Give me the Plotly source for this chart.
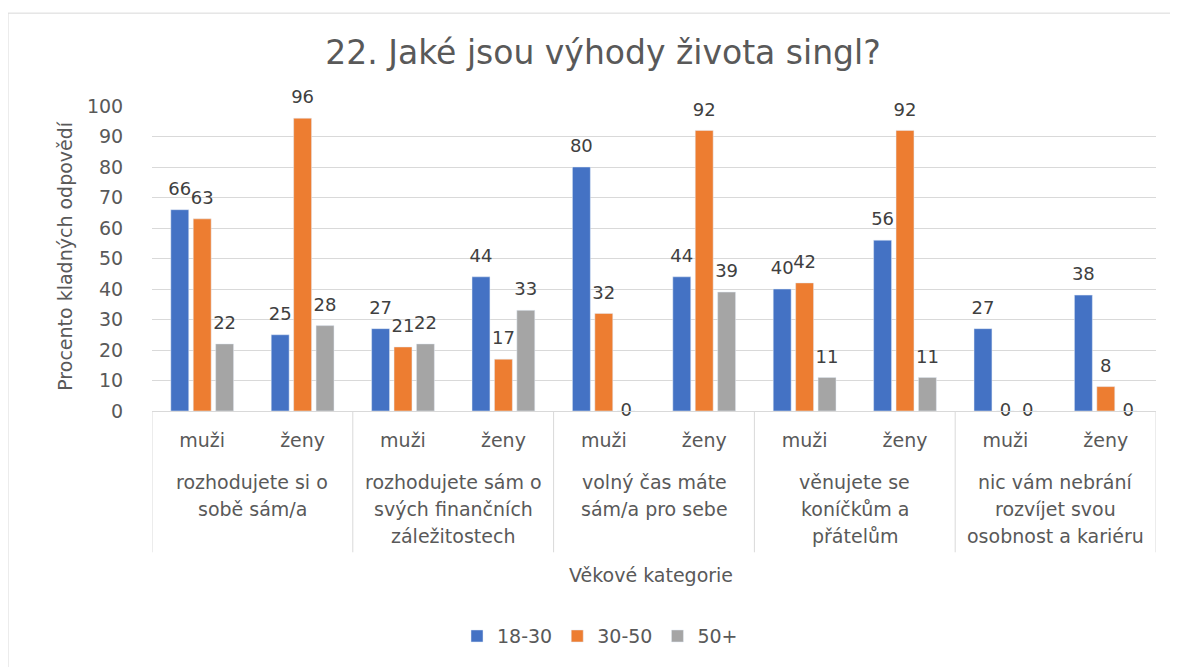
import plotly.graph_objects as go

# ---- data ----
questions = [
    "rozhodujete si o<br>sobě sám/a",
    "rozhodujete sám o<br>svých finančních<br>záležitostech",
    "volný čas máte<br>sám/a pro sebe",
    "věnujete se<br>koníčkům a<br>přátelům",
    "nic vám nebrání<br>rozvíjet svou<br>osobnost a kariéru",
]
genders = ["muži", "ženy"]
series_names = ["18-30", "30-50", "50+"]
s18_30 = [66, 25, 27, 44, 80, 44, 40, 56, 27, 38]
s30_50 = [63, 96, 21, 17, 32, 92, 42, 92, 0, 8]
s50p = [22, 28, 22, 33, 0, 39, 11, 11, 0, 0]
colors = ["#4472C4", "#ED7D31", "#A5A5A5"]

# ---- layout geometry (page pixels; page body has an 8px margin) ----
OFF = 8
W, H = 1178 - OFF, 667 - OFF
L, R, T, B = 152 - OFF, 1156 - OFF, 106 - OFF, 411.5 - OFF
PW, PH = R - L, B - T

def px(xp):
    return (xp - OFF - L) / PW

def py(yp):
    return (B - (yp - OFF)) / PH

FONT = "DejaVu Sans"
GRAY = "#595959"
FS = 19

cats = [g for _ in questions for g in genders]
xpos = list(range(len(cats)))

fig = go.Figure()
for k, (name, vals, col) in enumerate(zip(series_names, [s18_30, s30_50, s50p], colors)):
    fig.add_trace(go.Bar(
        x=xpos, y=vals, name=name, marker_color=col, offsetgroup=str(k),
        hoverinfo="y",
    ))
for k, (name, vals) in enumerate(zip(series_names, [s18_30, s30_50, s50p])):
    fig.add_trace(go.Scatter(
        x=xpos, y=vals, mode="markers+text", offsetgroup=str(k),
        marker=dict(size=15, color="rgba(0,0,0,0)"),
        text=[str(v) for v in vals],
        textposition=["middle center" if v == 0 else "top center" for v in vals],
        textfont=dict(family=FONT, size=18, color="#404040"),
        showlegend=False, hoverinfo="skip", cliponaxis=False,
    ))

shapes = []
for i in range(len(questions) + 1):
    shapes.append(dict(type="line", xref="x", yref="paper",
                       x0=-0.5 + 2 * i, x1=-0.5 + 2 * i, y0=0, y1=py(553),
                       line=dict(color="#d9d9d9", width=1)))
shapes.append(dict(type="rect", xref="paper", yref="paper",
                   x0=px(8), x1=px(1172), y0=py(700), y1=py(13),
                   line=dict(color="#d9d9d9", width=1), layer="below"))

annotations = []
line_y = [483, 510, 537]
for i, q in enumerate(questions):
    for j, line in enumerate(q.split("<br>")):
        annotations.append(dict(x=2 * i + 0.5, xref="x", y=py(line_y[j]), yref="paper",
                                yanchor="middle", xanchor="center", text=line,
                                showarrow=False,
                                font=dict(family=FONT, size=FS, color=GRAY)))
annotations.append(dict(x=px(651), y=py(576), xref="paper", yref="paper",
                        xanchor="center", yanchor="middle",
                        text="Věkové kategorie", showarrow=False,
                        font=dict(family=FONT, size=FS, color=GRAY)))
annotations.append(dict(x=px(65), y=py(256), xref="paper", yref="paper",
                        xanchor="center", yanchor="middle",
                        text="Procento kladných odpovědí", showarrow=False, textangle=-90,
                        font=dict(family=FONT, size=FS, color=GRAY)))

fig.update_layout(
    width=W, height=H,
    margin=dict(l=L, r=W - R, t=T, b=H - B),
    paper_bgcolor="white", plot_bgcolor="white",
    barmode="group", bargap=0.33, bargroupgap=0.2,
    scattermode="group", scattergap=0.33,
    title=dict(text="22. Jaké jsou výhody života singl?", x=px(603), xref="paper",
               xanchor="center", y=1 - (52 - OFF) / H, yanchor="middle",
               font=dict(family=FONT, size=33, color=GRAY)),
    font=dict(family=FONT, size=FS, color=GRAY),
    showlegend=True,
    legend=dict(orientation="h", x=px(600), xanchor="center", y=py(637), yanchor="middle",
                font=dict(family=FONT, size=FS, color=GRAY), traceorder="normal",
                itemwidth=30),
    shapes=shapes, annotations=annotations,
    xaxis=dict(range=[-0.5, 9.5], tickmode="array", tickvals=xpos, ticktext=cats,
               showgrid=False, zeroline=False, showline=True, linecolor="#d9d9d9",
               ticks="outside", ticklen=12, tickcolor="rgba(0,0,0,0)",
               tickfont=dict(family=FONT, size=FS, color=GRAY)),
    yaxis=dict(range=[0, 100], dtick=10, showgrid=True, gridcolor="#d9d9d9",
               zeroline=False, showline=False,
               ticks="outside", ticklen=24, tickcolor="rgba(0,0,0,0)",
               tickfont=dict(family=FONT, size=FS, color=GRAY)),
)

fig.write_html("out.html")
